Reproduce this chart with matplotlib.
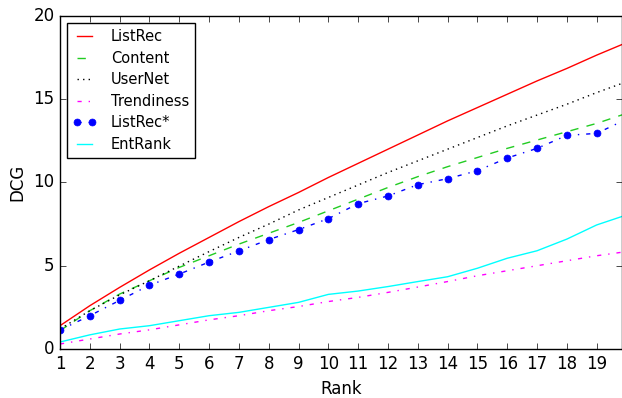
import matplotlib
matplotlib.use('Agg')
from matplotlib import pyplot as plt
import numpy as np

plt.style.use('classic')

# DCG at each rank
ranks = np.arange(1, 21)
listrec = [1.4, 2.6, 3.7, 4.75, 5.75, 6.7, 7.65, 8.55, 9.4, 10.3,
           11.15, 12.0, 12.85, 13.7, 14.5, 15.3, 16.1, 16.85, 17.65, 18.4]
content = [1.1, 2.3, 3.3, 4.1, 4.9, 5.6, 6.3, 6.95, 7.6, 8.3,
           9.0, 9.7, 10.35, 10.95, 11.5, 12.05, 12.55, 13.05, 13.55, 14.15]
usernet = [1.2, 2.3, 3.25, 4.1, 4.98, 5.85, 6.7, 7.5, 8.35, 9.1,
           9.85, 10.6, 11.3, 12.0, 12.7, 13.4, 14.05, 14.7, 15.4, 16.05]
trendiness = [0.3, 0.6, 0.9, 1.15, 1.45, 1.75, 2.0, 2.3, 2.55, 2.85,
              3.1, 3.4, 3.72, 4.05, 4.4, 4.7, 5.0, 5.3, 5.6, 5.85]
listrec_star = [1.14, 2.0, 2.92, 3.83, 4.5, 5.22, 5.89, 6.57, 7.17, 7.83,
                8.73, 9.19, 9.87, 10.23, 10.71, 11.47, 12.05, 12.83, 12.95, 13.8]
entrank = [0.42, 0.85, 1.2, 1.4, 1.7, 2.0, 2.2, 2.5, 2.8, 3.28,
           3.48, 3.75, 4.05, 4.34, 4.85, 5.45, 5.9, 6.6, 7.45, 8.05]

fig = plt.figure(figsize=(6.22, 3.98), dpi=100, facecolor='white')
ax = fig.add_axes([60/622, 49/398, 562/622, 333/398])

ax.plot(ranks, listrec, '-', color='red', label='ListRec')
ax.plot(ranks, content, '--', color='#22cc22', label='Content')
ax.plot(ranks, usernet, ':', color='black', label='UserNet')
ax.plot(ranks, trendiness, '-.', color='magenta', label='Trendiness')
ax.plot(ranks, listrec_star, '-.', color='blue', marker='o', markersize=5,
        markeredgecolor='blue', label='ListRec*')
ax.plot(ranks, entrank, '-', color='cyan', label='EntRank')

ax.set_xlim(1, 19.85)
ax.set_ylim(0, 20)
ax.set_xticks(np.arange(1, 20))
ax.set_yticks([0, 5, 10, 15, 20])
ax.set_xlabel('Rank')
ax.set_ylabel('DCG')
ax.legend(loc='upper left', fontsize=10.5, numpoints=2, labelspacing=0.45,
          handlelength=1.6, handletextpad=1.0, borderaxespad=0.5)

fig.savefig('out.png', dpi=100, facecolor='white')
